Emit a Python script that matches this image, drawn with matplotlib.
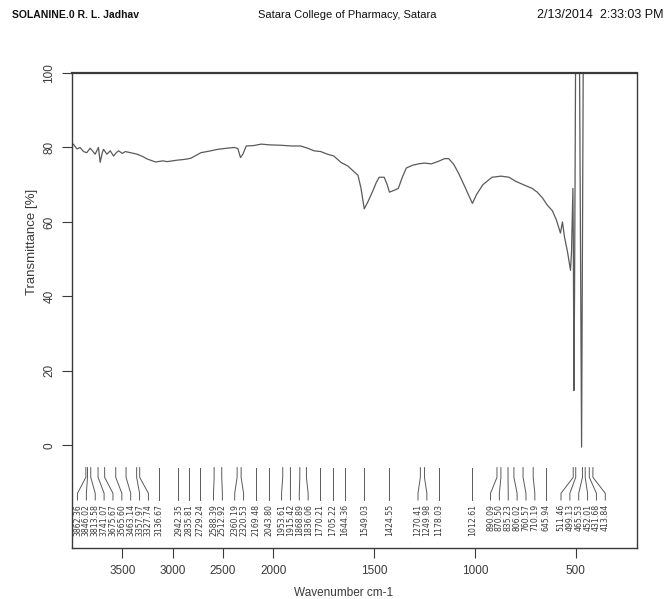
import matplotlib
matplotlib.use('Agg')
import matplotlib.pyplot as plt
import numpy as np

# Spectrum trace (wavenumber cm-1, transmittance %)
wavenumber = [4000, 3987, 3950, 3920, 3885, 3853, 3820, 3803, 3770, 3737, 3720, 3700,
              3687, 3653, 3620, 3587, 3560, 3537, 3500, 3470, 3420, 3353, 3300, 3253,
              3170, 3100, 3053, 2953, 2880, 2820, 2720, 2640, 2553, 2460, 2387, 2353,
              2327, 2303, 2270, 2200, 2120, 2040, 1965, 1910, 1865, 1830, 1798, 1765,
              1732, 1700, 1665, 1630, 1600, 1580, 1565, 1549, 1530, 1505, 1490, 1475,
              1450, 1435, 1424, 1400, 1380, 1360, 1340, 1310, 1280, 1250, 1215, 1180,
              1150, 1130, 1105, 1080, 1050, 1025, 1012, 990, 960, 915, 870, 830, 800,
              780, 750, 715, 690, 665, 640, 615, 595, 575, 565, 555, 540, 525, 520,
              513, 511, 508, 505, 500, 490, 480, 470, 462, 440, 420, 400]
transmittance = [80.5, 80.9, 79.6, 80.0, 78.9, 78.6, 79.8, 79.3, 78.2, 80.0, 76.0, 78.5,
                 79.5, 78.2, 79.1, 77.7, 78.6, 79.1, 78.4, 78.9, 78.6, 78.2, 77.6, 76.9,
                 76.1, 76.4, 76.2, 76.6, 76.8, 77.1, 78.6, 79.0, 79.5, 79.8, 80.0, 79.7,
                 77.3, 78.2, 80.4, 80.5, 80.9, 80.7, 80.6, 80.4, 80.4, 79.8, 79.1, 78.9,
                 78.2, 77.7, 76.0, 75.0, 73.5, 72.5, 69.0, 63.5, 65.5, 68.5, 70.5, 72.0,
                 72.0, 70.0, 68.0, 68.5, 69.0, 72.0, 74.5, 75.2, 75.6, 75.8, 75.6, 76.3,
                 77.0, 77.0, 75.5, 73.0, 69.5, 66.5, 65.0, 67.5, 70.0, 72.0, 72.3, 72.0,
                 71.0, 70.5, 69.8, 69.0, 68.0, 66.5, 64.5, 63.0, 60.5, 57.0, 60.0, 56.0,
                 52.0, 47.0, 52.0, 69.0, 55.0, 14.7, 40.0, 100.0, 100.0, 100.0, -0.5,
                 100.0, 100.0, 100.0, 100.0]

# Peak picks printed under the trace
peaks = [3862.36, 3846.02, 3813.58, 3741.07, 3675.67, 3565.60, 3463.14, 3357.97,
         3327.74, 3136.67, 2942.35, 2835.81, 2729.24, 2588.39, 2512.92, 2360.19,
         2320.53, 2169.48, 2043.80, 1953.61, 1915.42, 1868.89, 1836.06, 1770.21,
         1705.22, 1644.36, 1549.03, 1424.55, 1270.41, 1249.98, 1178.03, 1012.61,
         890.09, 870.50, 835.23, 806.02, 760.57, 710.19, 645.94, 511.46, 499.13,
         465.53, 452.01, 431.68, 413.84]

xticks = [3500, 3000, 2500, 2000, 1500, 1000, 500]
yticks = [0, 20, 40, 60, 80, 100]

header_left = 'SOLANINE.0 R. L. Jadhav'
header_mid = 'Satara College of Pharmacy, Satara'
header_right = '2/13/2014  2:33:03 PM'

sans = ['Liberation Sans', 'DejaVu Sans']
ink = '#3a3a3a'
trace_col = '#5a5a5a'


# instrument chart: scale above 2000 cm-1 is compressed by half
def fwd(w):
    w = np.asarray(w, dtype=float)
    return np.where(w <= 2000, w, 2000 + (w - 2000) / 2)


def inv(u):
    u = np.asarray(u, dtype=float)
    return np.where(u <= 2000, u, 2000 + (u - 2000) * 2)


def spread(u, gap, hi):
    # push crowded label positions apart, keeping clusters centred
    clusters = [[v] for v in sorted(u)]

    def place(c):
        n = len(c)
        p = np.mean(c) + gap * (np.arange(n) - (n - 1) / 2)
        return p - max(0, p[-1] - hi)

    merged = True
    while merged:
        merged = False
        new = [clusters[0]]
        for c in clusters[1:]:
            if place(new[-1])[-1] + gap > place(c)[0]:
                new[-1] = new[-1] + c
                merged = True
            else:
                new.append(c)
        clusters = new
    return np.concatenate([place(c) for c in clusters])


fig = plt.figure(figsize=(6.64, 5.99), dpi=100)
ax = fig.add_axes([0.1084, 0.0851, 0.8509, 0.7930])
ax.set_xscale('function', functions=(fwd, inv))
ax.set_xlim(4000, 195)
ax.set_ylim(-27.6, 100)

ax.plot(wavenumber, transmittance, color=trace_col, lw=0.9)

# peak markers with bent leaders and rotated labels
u = np.sort(fwd(peaks))
lab_u = spread(u, 44, float(fwd(3945)))
for pu, lu in zip(u, lab_u):
    pw, lw_ = float(inv(pu)), float(inv(lu))
    ax.plot([pw, pw, lw_, lw_], [-6.0, -8.6, -12.9, -14.7], color=trace_col, lw=0.7)
    ax.text(lw_, -15.8, f'{pw:.2f}', rotation=90, ha='center', va='top',
            fontsize=5.6, color=ink)

for s in ax.spines.values():
    s.set_color(ink)
    s.set_linewidth(1.0)
ax.spines['top'].set_linewidth(1.6)

ax.set_xticks(xticks)
ax.set_xticklabels([str(t) for t in xticks], family=sans, fontsize=8.5, color=ink)
ax.xaxis.set_minor_locator(matplotlib.ticker.NullLocator())
ax.set_yticks(yticks)
ax.set_yticklabels([str(t) for t in yticks], rotation=90, va='center',
                   family=sans, fontsize=8.5, color=ink)
ax.tick_params(axis='both', direction='out', length=7, width=0.8, color=ink, pad=5)

ax.set_xlabel('Wavenumber cm-1', fontsize=8.5, color=ink, family=sans)
ax.xaxis.set_label_coords(0.48, -0.082)
ax.set_ylabel('Transmittance [%]', fontsize=9.5, color=ink, family=sans)
ax.yaxis.set_label_coords(-0.06, 0.644)

fig.text(12 / 664, 1 - 15 / 599, header_left, fontsize=7.5, color='#111', va='center',
         family=sans, fontweight='bold')
fig.text(258 / 664, 1 - 15 / 599, header_mid, fontsize=8, color='#111', va='center',
         family=sans)
fig.text(537 / 664, 1 - 15 / 599, header_right, fontsize=9, color='#111', va='center',
         family=sans)

plt.savefig('out.png', dpi=100)
